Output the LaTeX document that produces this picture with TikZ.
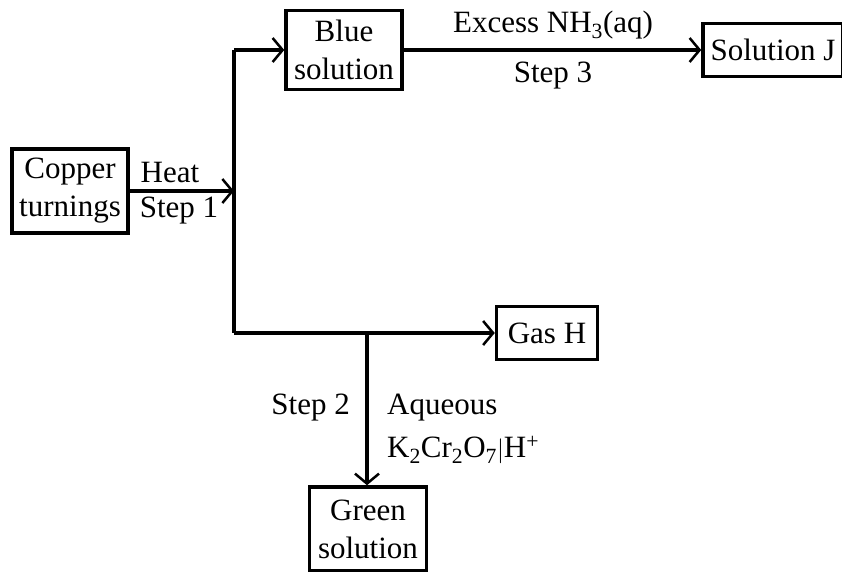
\documentclass[tikz,border=0pt]{standalone}
\usepackage{fontspec}
\setmainfont{Liberation Serif}
\usetikzlibrary{arrows.meta}
\begin{document}
\begin{tikzpicture}[x=1pt,y=-1pt,
box/.style ={rectangle, draw=black, line width=3.5pt,
  align=center, inner sep=0pt, font=\fontsize{31}{38}\selectfont
},
flow/.style ={line width=3.2pt, -{Straight Barb[length=10pt,width=24pt,line width=2.5pt]}},
lbl/.style ={inner sep=0pt, font=\fontsize{31}{38}\selectfont}]
\useasboundingbox (0,0) rectangle (842,571);
\node (copper) at (70,191) [box, minimum width=116pt, minimum height=84pt] {Copper\\turnings};
\node (blue) at (344,50) [box, minimum width=116pt, minimum height=79pt] {Blue\\solution};
\node (solj) at (773,50) [box, minimum width=140pt, minimum height=53pt] {Solution J};
\node (gash) at (547,333) [box, minimum width=101pt, minimum height=53pt] {Gas H};
\node (green) at (368,529) [box, minimum width=117pt, minimum height=84pt] {Green\\solution};
\coordinate (spine) at (234,191);
\coordinate (top) at (234,50);
\coordinate (bottom) at (234,333);
\coordinate (branch) at (367,333);
% connectors
\draw[flow] (copper.east) -- (spine);
\draw[line width=3.2pt] (top) -- (bottom);
\draw[flow] (top) -- (blue.west);
\draw[flow] (blue.east) -- (solj.west);
\draw[flow] (bottom) -- (gash.west);
\draw[flow] (branch) -- (branch |- green.north);
% labels
\node (heat) at (170,172) [lbl] {Heat};
\node (stepone) at (179,211) [lbl] {Step 1};
\node (excess) at (553,25) [lbl] {Excess NH\textsubscript{3}(aq)};
\node (stepthree) at (553,76) [lbl] {Step 3};
\node (steptwo) at (350,408) [lbl, anchor=east] {Step 2};
\node (aqueous) at (387,408) [lbl, anchor=west] {Aqueous};
\node (dichromate) at (387,450) [lbl, anchor=west] {K\textsubscript{2}Cr\textsubscript{2}O\textsubscript{7}$|$H\textsuperscript{+}};
\end{tikzpicture}
\end{document}
